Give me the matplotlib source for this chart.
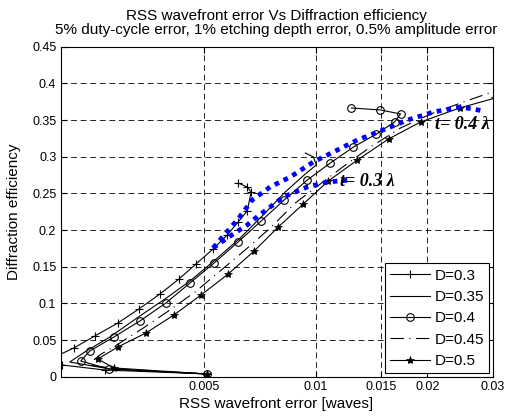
import matplotlib.pyplot as plt
import numpy as np

plt.rcParams['font.family'] = ['Liberation Sans', 'DejaVu Sans']

# D = 0.3 (plus markers)
d30_x = [0.005094, 0.002699, 0.002065, 0.001978, 0.002226, 0.002536, 0.002927, 0.003336,
         0.003802, 0.004279, 0.004757, 0.005288, 0.005771, 0.006179, 0.006535, 0.006700,
         0.006535, 0.006179]
d30_y = [0.0037, 0.0091, 0.0160, 0.0269, 0.0391, 0.0555, 0.0732, 0.0923, 0.1128, 0.1332,
         0.1537, 0.1741, 0.1932, 0.2109, 0.2259, 0.2519, 0.2587, 0.2641]

# D = 0.35 (plain line)
d35_x = [0.005094, 0.002785, 0.002171, 0.002384, 0.002785, 0.003357, 0.003922, 0.004583,
         0.005354, 0.006257, 0.007174, 0.008279, 0.009376, 0.010041, 0.009856, 0.009376]
d35_y = [0.0037, 0.0105, 0.0200, 0.0337, 0.0541, 0.0828, 0.1059, 0.1305, 0.1591, 0.1891,
         0.2191, 0.2519, 0.2764, 0.2887, 0.2996, 0.3050]

# D = 0.4 (circles)
d40_x = [0.005094, 0.002767, 0.002325, 0.002459, 0.002855, 0.003357, 0.003946, 0.004583,
         0.005321, 0.006179, 0.007129, 0.008227, 0.009494, 0.010954, 0.012645, 0.014589,
         0.016321, 0.016942, 0.014957, 0.012488]
d40_y = [0.0037, 0.0105, 0.0214, 0.0350, 0.0541, 0.0760, 0.1005, 0.1278, 0.1550, 0.1837,
         0.2123, 0.2410, 0.2682, 0.2914, 0.3132, 0.3309, 0.3473, 0.3582, 0.3637, 0.3664]

# D = 0.45 (dash-dot)
d45_x = [0.005094, 0.002927, 0.002429, 0.002617, 0.002964, 0.003463, 0.004046, 0.004728,
         0.005524, 0.006454, 0.007541, 0.008810, 0.010294, 0.012031, 0.014055, 0.016942,
         0.020425, 0.024618, 0.027886, 0.030421]
d45_y = [0.0037, 0.0105, 0.0160, 0.0296, 0.0460, 0.0678, 0.0910, 0.1155, 0.1441, 0.1728,
         0.2027, 0.2368, 0.2628, 0.2887, 0.3132, 0.3391, 0.3582, 0.3732, 0.3828, 0.3896]

# D = 0.5 (stars)
d50_x = [0.005094, 0.002855, 0.002584, 0.002927, 0.003485, 0.004148, 0.004907, 0.005807,
         0.006826, 0.007926, 0.009260, 0.010819, 0.012964, 0.015723, 0.019185, 0.024465,
         0.0305]
d50_y = [0.0037, 0.0119, 0.0241, 0.0405, 0.0596, 0.0842, 0.1114, 0.1400, 0.1714, 0.2041,
         0.2355, 0.2669, 0.2955, 0.3241, 0.3473, 0.3664, 0.3800]

# etch depth curves (blue dotted)
t04_x = [0.005288, 0.005698, 0.006179, 0.006742, 0.007541, 0.008541, 0.009856, 0.011168,
         0.012964, 0.014503, 0.017700, 0.020814, 0.024618, 0.028409]
t04_y = [0.1755, 0.1946, 0.2150, 0.2410, 0.2587, 0.2723, 0.2928, 0.3064, 0.3228, 0.3323,
         0.3500, 0.3610, 0.3678, 0.3623]
t03_x = [0.005288, 0.005771, 0.006535, 0.006998, 0.007541, 0.008178, 0.009494, 0.010753,
         0.012408]
t03_y = [0.1755, 0.1891, 0.2068, 0.2191, 0.2314, 0.2450, 0.2587, 0.2655, 0.2682]

xticks = [0.005, 0.01, 0.015, 0.02, 0.03]
xticklabels = ['0.005', '0.01', '0.015', '0.02', '0.03']
yticks = [0, 0.05, 0.1, 0.15, 0.2, 0.25, 0.3, 0.35, 0.4, 0.45]
yticklabels = ['0', '0.05', '0.1', '0.15', '0.2', '0.25', '0.3', '0.35', '0.4', '0.45']

fig = plt.figure(figsize=(5.06, 4.19), dpi=100)
ax = fig.add_axes([0.1196, 0.1010, 0.8538, 0.7876])

lw = 0.8
ax.plot(d30_x, d30_y, 'k-', marker='+', ms=6, mew=0.8, lw=lw, label='D=0.3')
ax.plot(d35_x, d35_y, 'k-', lw=lw, label='D=0.35')
ax.plot(d40_x, d40_y, 'k-', marker='o', ms=5.5, mfc='none', mew=0.8, lw=lw, label='D=0.4')
ax.plot(d45_x, d45_y, 'k', ls=(0, (12, 5, 1, 5)), lw=lw, label='D=0.45')
ax.plot(d50_x, d50_y, 'k-', marker='*', ms=6, mew=0.5, lw=lw, label='D=0.5')

ax.plot(t04_x, t04_y, color='#0000ff', ls=(0, (1, 1.1)), lw=3.4, zorder=4)
ax.plot(t03_x, t03_y, color='#0000ff', ls=(0, (1, 1.1)), lw=3.4, zorder=4)

ax.text(0.0210, 0.3432, 't= 0.4 λ', family=['Liberation Serif', 'DejaVu Serif'],
        fontweight='bold', fontstyle='italic', fontsize=13, va='center', zorder=5)
ax.text(0.01165, 0.2668, 't= 0.3 λ', family=['Liberation Serif', 'DejaVu Serif'],
        fontweight='bold', fontstyle='italic', fontsize=13, va='center', zorder=5)

ax.set_xscale('log')
ax.set_xlim(0.00205, 0.03)
ax.set_ylim(0, 0.45)
ax.set_xticks(xticks)
ax.set_xticklabels(xticklabels)
ax.xaxis.set_minor_locator(plt.NullLocator())
ax.set_yticks(yticks)
ax.set_yticklabels(yticklabels)
ax.tick_params(direction='in', top=True, right=True, length=4, width=0.8, labelsize=9, pad=3)
ax.grid(True, color='k', ls=(0, (7, 4.5)), lw=0.6)
for s in ax.spines.values():
    s.set_linewidth(0.8)

ax.set_xlabel('RSS wavefront error [waves]', fontsize=11, labelpad=3)
ax.set_ylabel('Diffraction efficiency', fontsize=11, labelpad=8)
ax.set_title('RSS wavefront error Vs Diffraction efficiency\n'
             '5% duty-cycle error, 1% etching depth error, 0.5% amplitude error',
             fontsize=11, pad=9, linespacing=1.0)

leg = ax.legend(loc='lower right', fontsize=11, fancybox=False, framealpha=1,
                edgecolor='k', borderaxespad=0.22, handlelength=2.6, handletextpad=0.3,
                labelspacing=0.48, borderpad=0.35)
leg.get_frame().set_linewidth(0.8)

fig.savefig('out.png', dpi=100)
